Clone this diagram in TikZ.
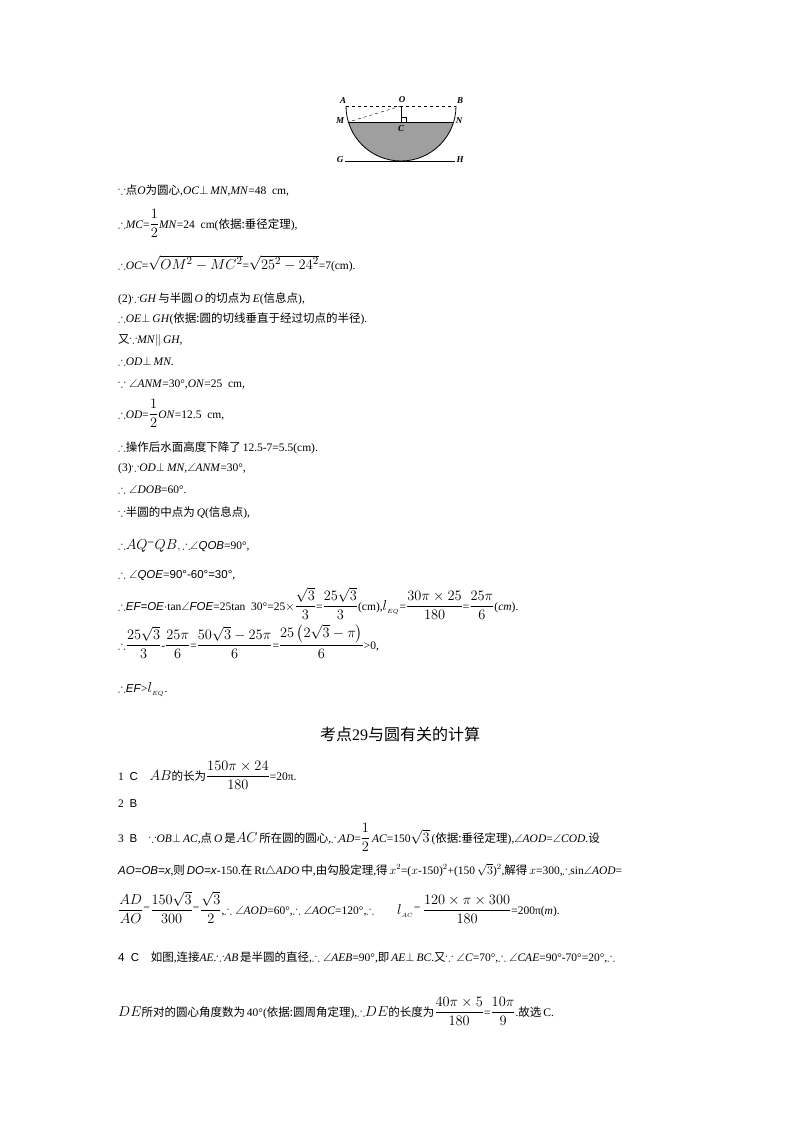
\documentclass[tikz,border=0pt]{standalone}
\usepackage{amsmath,amssymb}
\usepackage{fontspec}
\setmainfont{Liberation Serif}
\newfontfamily\cjk{Noto Sans CJK SC}
\newfontfamily\sans{Liberation Sans}
\usetikzlibrary{positioning}
\tikzset{line/.style={anchor=base west, inner sep=0pt, font=\fontsize{11.5}{13}\selectfont},
  lbl/.style={font=\fontsize{9}{10}\selectfont\bfseries\itshape, inner sep=0pt}}
\newcommand{\zh}[1]{{\cjk #1}}
\newcommand{\bm}[1]{{\fontsize{15}{17}\selectfont$#1$}}
\begin{document}
\begin{tikzpicture}[x=1pt,y=-1pt]
\useasboundingbox (0,0) rectangle (800,1132);
% figure
\coordinate (O) at (401,106);
\coordinate (A) at (346,106);
\coordinate (B) at (456,106);
\coordinate (M) at (348.4,122);
\coordinate (N) at (453.6,122);
\coordinate (C) at (401,122);
\coordinate (G) at (345,161);
\coordinate (H) at (455,161);
\fill[gray!75] (M) arc[start angle=163.1, end angle=16.9, radius=55] -- cycle;
\draw[thick] (A) arc[start angle=180, end angle=0, radius=55];
\draw[thick] (M) -- (N);
\draw[dashed] (A) -- (B);
\draw[dashed] (O) -- (M);
\draw (O) -- (C);
\draw (401,117) -- (406,117) -- (406,122);
\draw[thick] (G) -- (H);
\node[lbl] (lA) at (343,101) {A};
\node[lbl] (lO) at (402,100) {O};
\node[lbl] (lB) at (460,101) {B};
\node[lbl] (lM) at (340,121) {M};
\node[lbl] (lC) at (401,129) {C};
\node[lbl] (lN) at (459,121) {N};
\node[lbl] (lG) at (340,160) {G};
\node[lbl] (lH) at (460,160) {H};
% text
\node[line] (t1) at (118,194) {$\because$\zh{点}\textit{O}\zh{为圆心},\textit{OC}$\perp$\,\textit{MN},\textit{MN}=48\ \ cm,};
\node[line] (t2) at (118,228) {$\therefore$\textit{MC}=\bm{\dfrac{1}{2}}\textit{MN}=24\ \ cm(\zh{依据:垂径定理}),};
\node[line] (t3) at (118,269) {$\therefore$\textit{OC}=\bm{\sqrt{OM^2-MC^2}}=\bm{\sqrt{25^2-24^2}}=7(cm).};
\node[line] (t4) at (118,302) {(2)$\because$\textit{GH}\,\zh{与半圆}\,\textit{O}\,\zh{的切点为}\,\textit{E}(\zh{信息点}),};
\node[line] (t5) at (118,322) {$\therefore$\textit{OE}$\perp$\,\textit{GH}(\zh{依据:圆的切线垂直于经过切点的半径}).};
\node[line] (t6) at (118,343) {\zh{又}$\because$\textit{MN}$\|$\,\textit{GH},};
\node[line] (t7) at (118,365) {$\therefore$\textit{OD}$\perp$\,\textit{MN}.};
\node[line] (t8) at (118,387) {$\because\angle$\textit{ANM}=30°,\textit{ON}=25\ \ cm,};
\node[line] (t9) at (118,418) {$\therefore$\textit{OD}=\bm{\dfrac{1}{2}}\textit{ON}=12.5\ \ cm,};
\node[line] (t10) at (118,451) {$\therefore$\zh{操作后水面高度下降了}\,12.5-7=5.5(cm).};
\node[line] (t11) at (118,471) {(3)$\because$\textit{OD}$\perp$\,\textit{MN},$\angle$\textit{ANM}=30°,};
\node[line] (t12) at (118,493) {$\therefore\angle$\textit{DOB}=60°.};
\node[line] (t13) at (118,516) {$\because$\zh{半圆的中点为}\,\textit{Q}(\zh{信息点}),};
\node[line] (t14) at (118,549) {$\therefore$\bm{AQ}$^=$\bm{QB}$,\therefore$\textit{\sans$\angle$QOB}=90°,};
\node[line] (t15) at (118,578) {$\therefore\angle$\textit{\sans QOE}={\sans 90°-60°=30°},};
\node[line] (t16) at (118,610) {$\therefore$\textit{\sans EF=OE}$\cdot$tan$\angle$\textit{\sans FOE}=25tan\ \ 30°=25$\times$\bm{\dfrac{\sqrt3}{3}}=\bm{\dfrac{25\sqrt3}{3}}(cm),\bm{l}$_{_{EQ}}$=\bm{\dfrac{30\pi\times25}{180}}=\bm{\dfrac{25\pi}{6}}(\textit{cm}).};
\node[line] (t17) at (118,649) {$\therefore$\bm{\dfrac{25\sqrt3}{3}}-\bm{\dfrac{25\pi}{6}}=\bm{\dfrac{50\sqrt3-25\pi}{6}}=\bm{\dfrac{25\left(2\sqrt3-\pi\right)}{6}}>0,};
\node[line] (t18) at (118,692) {$\therefore$\textit{\sans EF}>\bm{l}$_{_{EQ}}$.};
\node[anchor=base, inner sep=0pt, font=\fontsize{16}{19}\selectfont] (head) at (400,740) {\zh{考点}29\zh{与圆有关的计算}};
\node[line] (t19) at (118,780) {1\ \ {\sans C}\quad\bm{AB}\zh{的长为}\bm{\dfrac{150\pi\times24}{180}}=20π.};
\node[line] (t20) at (118,807) {2\ \ {\sans B}};
\node[line] (t21) at (118,842) {3\ \ {\sans B}\quad$\because$\textit{OB}$\perp$\,\textit{AC},\zh{点}\,\textit{O}\,\zh{是}\bm{AC}\,\zh{所在圆的圆心},$\therefore$\textit{AD}=\bm{\dfrac12}\,\textit{AC}=150\bm{\sqrt3}\,(\zh{依据:垂径定理}),$\angle$\textit{AOD}=$\angle$\textit{COD}.\zh{设}};
\node[line] (t22) at (118,874) {\textit{\sans AO=OB=x},\zh{则}\,\textit{\sans DO=x}-150.\zh{在}\,Rt$\triangle$\textit{ADO}\,\zh{中},\zh{由勾股定理},\zh{得}\,$x^2$=($x$-150)$^2$+(150\,$\sqrt3$)$^2$,\zh{解得}\,$x$=300,$\therefore$sin$\angle$\textit{AOD}=};
\node[line] (t23) at (118,914) {\bm{\dfrac{AD}{AO}}$^=$\bm{\dfrac{150\sqrt3}{300}}$^=$\bm{\dfrac{\sqrt3}{2}},$\therefore\angle$\textit{AOD}=60°,$\therefore\angle$\textit{AOC}=120°,$\therefore$\qquad\bm{l}$_{_{AC}}$$^=$\,\bm{\dfrac{120\times\pi\times300}{180}}=200π(\textit{m}).};
\node[line] (t24) at (118,961) {{\sans 4\ \ C}\quad\zh{如图},\zh{连接}\textit{AE}.$\because$\textit{AB}\,\zh{是半圆的直径},$\therefore\angle$\textit{AEB}=90°,\zh{即}\,\textit{AE}$\perp$\,\textit{BC}.\zh{又}$\because\angle$\textit{C}=70°,$\therefore\angle$\textit{CAE}=90°-70°=20°,$\therefore$};
\node[line] (t25) at (118,1016) {\bm{DE}\zh{所对的圆心角度数为}\,40°(\zh{依据:圆周角定理}),$\therefore$\bm{DE}\zh{的长度为}\bm{\dfrac{40\pi\times5}{180}}=\bm{\dfrac{10\pi}{9}}.\zh{故选}\,C.};
\end{tikzpicture}
\end{document}
